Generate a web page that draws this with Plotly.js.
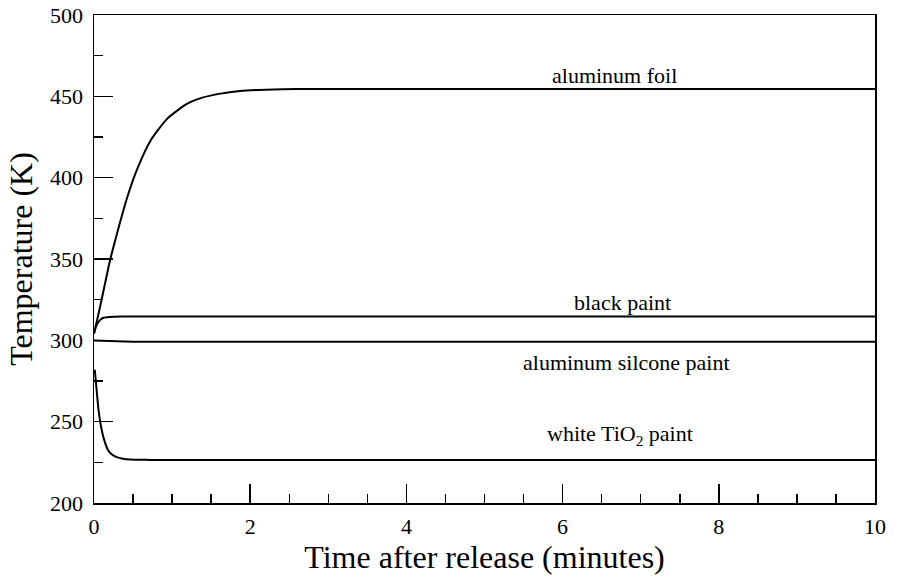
<!DOCTYPE html>
<html>
<head>
<meta charset="utf-8">
<script src="https://cdn.plot.ly/plotly-3.0.1.min.js"></script>
<style>html,body{margin:0;padding:0;background:#fff;}#chart{width:898px;height:579px;}</style>
</head>
<body>
<div id="chart"></div>
<script>
// Time after release (minutes)
const foilT   = [0, 0.077, 0.205, 0.277, 0.333, 0.427, 0.555, 0.725, 0.939, 1.195, 1.387, 1.6, 1.87, 2.2, 2.6, 3.5, 10];
const foilV   = [304.1, 320.4, 349.1, 362.5, 372.5, 388.1, 405.5, 422.9, 436.3, 445.5, 449.2, 451.5, 453.3, 454.1, 454.5, 454.5, 454.5];
const blackT  = [0, 0.025, 0.055, 0.09, 0.12, 0.2, 0.35, 10];
const blackV  = [304.4, 308.5, 311.2, 313.0, 313.9, 314.4, 314.6, 314.6];
const silT    = [0, 0.1, 0.3, 0.5, 10];
const silV    = [299.9, 299.8, 299.3, 299.2, 299.2];
const whiteT  = [0.01, 0.034, 0.055, 0.077, 0.12, 0.183, 0.23, 0.29, 0.37, 0.46, 0.7, 10];
const whiteV  = [281.9, 269.2, 258.5, 250.7, 240.5, 232.3, 229.8, 228.2, 227.2, 226.7, 226.5, 226.5];

const labelText = ["aluminum foil", "black paint", "aluminum silcone paint", "white TiO<sub>2</sub> paint"];
const labelT    = [6.67, 6.77, 6.82, 6.74];
const labelV    = [463.0, 323.5, 286.6, 242.0];

const xTitle = "Time after release (minutes)";
const yTitle = "Temperature (K)";

const lineStyle = {color: "#000", width: 2};
const traces = [
  {x: foilT, y: foilV, mode: "lines", line: Object.assign({shape: "spline", smoothing: 0.6}, lineStyle)},
  {x: blackT, y: blackV, mode: "lines", line: Object.assign({shape: "spline", smoothing: 0.6}, lineStyle)},
  {x: silT, y: silV, mode: "lines", line: lineStyle},
  {x: whiteT, y: whiteV, mode: "lines", line: Object.assign({shape: "spline", smoothing: 0.6}, lineStyle)}
];

const font = {family: "Liberation Serif, Times New Roman, serif", color: "#000"};

const annotations = labelText.map((t, i) => ({
  text: t, x: labelT[i], y: labelV[i], xref: "x", yref: "y",
  showarrow: false, xanchor: "center", yanchor: "middle",
  font: Object.assign({size: 22}, font)
}));

const layout = {
  width: 898, height: 579,
  margin: {l: 94, r: 23, t: 15, b: 76, pad: 0},
  paper_bgcolor: "#fff", plot_bgcolor: "#fff",
  showlegend: false,
  font: Object.assign({size: 22}, font),
  xaxis: {
    range: [0, 10], dtick: 2, tick0: 0,
    ticks: "inside", ticklen: 19, tickwidth: 1.5, tickcolor: "#000",
    showline: true, linecolor: "#000", linewidth: 1.5, mirror: true,
    showgrid: false, zeroline: false,
    tickfont: Object.assign({size: 22}, font),
    ticklabelstandoff: 3,
    minor: {dtick: 0.5, ticks: "inside", ticklen: 9, tickwidth: 1.5, tickcolor: "#000", showgrid: false},
    title: {text: xTitle, font: Object.assign({size: 32}, font), standoff: 4}
  },
  yaxis: {
    range: [200, 500], dtick: 50, tick0: 200,
    ticks: "inside", ticklen: 19, tickwidth: 1.5, tickcolor: "#000",
    showline: true, linecolor: "#000", linewidth: 1.5, mirror: true,
    showgrid: false, zeroline: false,
    tickfont: Object.assign({size: 22}, font),
    ticklabelstandoff: 5,
    minor: {dtick: 25, ticks: "inside", ticklen: 9, tickwidth: 1.5, tickcolor: "#000", showgrid: false},
    title: {text: yTitle, font: Object.assign({size: 32}, font), standoff: 8}
  },
  annotations: annotations
};

Plotly.newPlot("chart", traces, layout, {displayModeBar: false, staticPlot: true});
</script>
</body>
</html>
